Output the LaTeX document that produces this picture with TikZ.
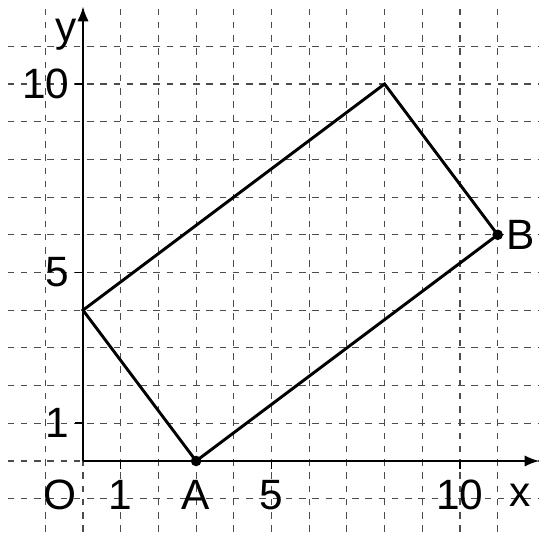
\documentclass[tikz,border=0pt]{standalone}
\usepackage{fontspec}
\setmainfont{Liberation Sans}
\usetikzlibrary{arrows.meta}
\begin{document}
\begin{tikzpicture}[
  gridline/.style={draw=black!70, line width=0.8pt, dash pattern=on 5pt off 5pt},
  axisline/.style={draw=black, line width=1.2pt, -{Latex[length=11pt,width=8.5pt]}},
  rectline/.style={draw=black, line width=2.2pt, line join=miter},
  lab/.style={font=\fontsize{32}{34}\selectfont, inner sep=0pt},
  dot/.style={circle, fill=black, inner sep=0pt, minimum size=8pt},
  tickline/.style={draw=black, line width=1.2pt}
]
\useasboundingbox (-2.2016,-1.91) rectangle (12.175,12.228);
\fill[white] (-2.2016,-1.91) rectangle (12.175,12.228);
% grid
\foreach \y in {-1,...,11} \draw[gridline] (-2.0,\y) -- (12.1,\y);
\foreach \x in {-1,...,11} \draw[gridline] (\x,12.0) -- (\x,-1.91);
% axes
\coordinate (o) at (0,0);
\coordinate (xe) at (12.1,0);
\coordinate (ye) at (0,12.05);
\draw[axisline] (o) -- (xe);
\draw[axisline] (o) -- (ye);
% ticks
\foreach \t in {1,5,10} {
  \draw[tickline] (\t,0) -- (\t,-0.2);
  \draw[tickline] (0,\t) -- (-0.2,\t);
}
% figure
\node[dot] (A) at (3,0) {};
\node[dot] (B) at (11,6) {};
\coordinate (C) at (8,10);
\coordinate (D) at (0,4);
\draw[rectline] (A.center) -- (B.center) -- (C) -- (D) -- cycle;
% labels
\node[lab] (lx) at (11.6,-0.9) {x};
\node[lab] (ly) at (-0.45,11.3) {y};
\node[lab] (lO) at (-0.62,-0.9) {O};
\node[lab] (lx1) at (1,-0.9) {1};
\node[lab] (lA) at (3,-0.9) {A};
\node[lab] (lx5) at (5,-0.9) {5};
\node[lab] (lx10) at (10,-0.9) {10};
\node[lab, anchor=east] (ly1) at (-0.35,1) {1};
\node[lab, anchor=east] (ly5) at (-0.35,5) {5};
\node[lab, anchor=east] (ly10) at (-0.35,10) {10};
\node[lab] (lB) at (11.62,6) {B};
\end{tikzpicture}
\end{document}
